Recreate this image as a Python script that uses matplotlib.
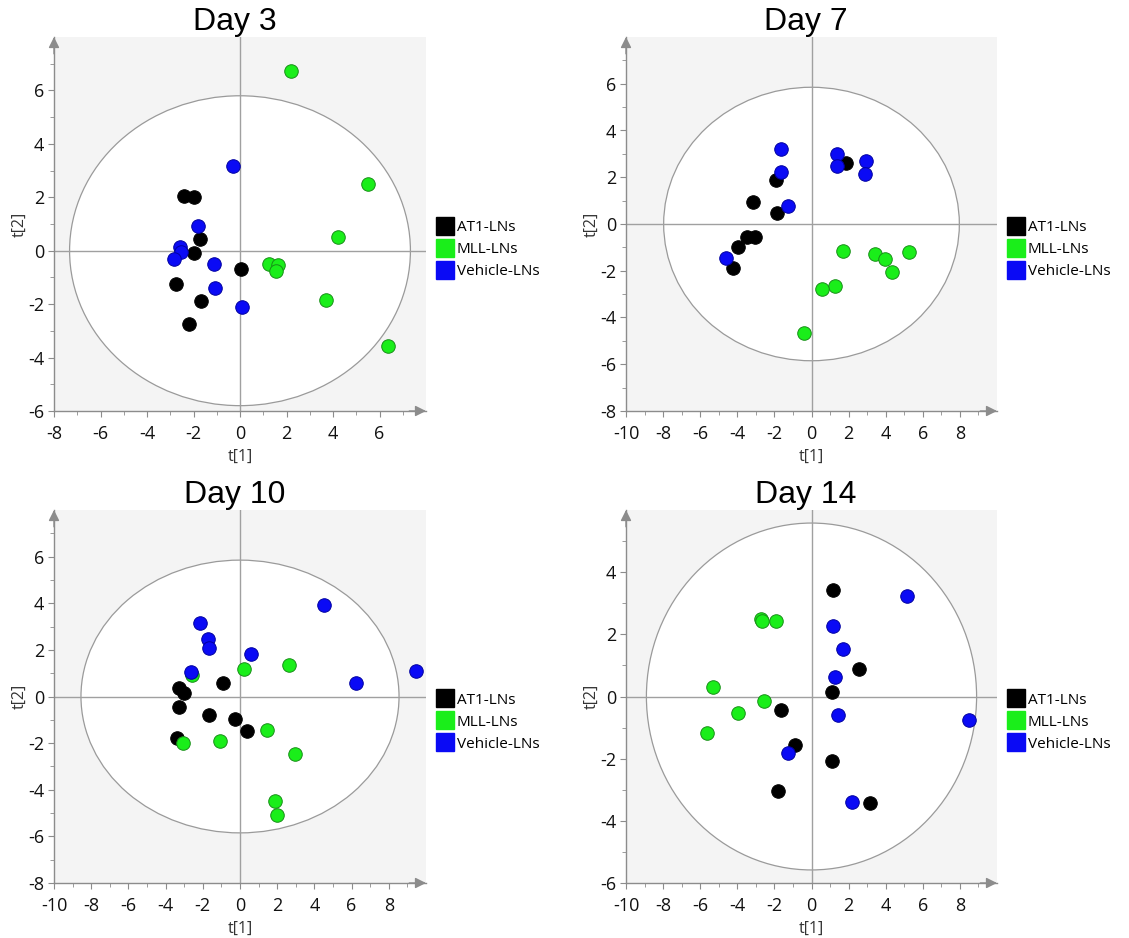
import matplotlib
matplotlib.use('Agg')
import matplotlib.pyplot as plt
from matplotlib.patches import Ellipse
from matplotlib.lines import Line2D
import numpy as np

plt.rcParams['font.family'] = ['Open Sans', 'DejaVu Sans']
plt.rcParams['axes.unicode_minus'] = False

groups = ['AT1-LNs', 'MLL-LNs', 'Vehicle-LNs']
face = ['#000000', '#1aee1a', '#0a0af5']
edge = ['#000000', '#178f17', '#0000a0']
titles = ['Day 3', 'Day 7', 'Day 10', 'Day 14']

# scores t[1], t[2]
day3_at1 = [(-2.41, 2.03), (-1.96, 2.0), (-1.71, 0.43), (-1.98, -0.1),
            (0.04, -0.7), (-2.77, -1.23), (-1.68, -1.88), (-2.18, -2.73)]
day3_mll = [(2.21, 6.74), (5.49, 2.49), (4.23, 0.5), (1.25, -0.48),
            (1.65, -0.55), (1.56, -0.75), (3.70, -1.83), (6.37, -3.55)]
day3_veh = [(-0.29, 3.16), (-1.79, 0.94), (-2.58, 0.13), (-2.52, -0.06),
            (-2.84, -0.3), (-1.10, -0.49), (-1.06, -1.41), (0.09, -2.1)]

day7_at1 = [(1.87, 2.6), (-1.94, 1.9), (-3.13, 0.96), (-1.87, 0.49),
            (-3.49, -0.57), (-3.04, -0.54), (-3.94, -0.97), (-4.21, -1.87)]
day7_mll = [(1.69, -1.17), (3.42, -1.3), (3.96, -1.49), (5.25, -1.21),
            (4.32, -2.07), (1.26, -2.64), (0.56, -2.8), (-0.43, -4.66)]
day7_veh = [(-1.67, 3.2), (-1.67, 2.24), (-1.28, 0.79), (1.35, 3.01),
            (1.35, 2.47), (2.95, 2.69), (2.91, 2.16), (-4.59, -1.44)]

day10_at1 = [(-0.92, 0.56), (-3.27, 0.37), (-3.0, 0.17), (-3.29, -0.46),
             (-1.65, -0.79), (-0.25, -0.96), (0.39, -1.46), (-3.41, -1.77)]
day10_mll = [(2.66, 1.33), (0.23, 1.2), (-2.57, 0.93), (1.45, -1.43),
             (2.94, -2.46), (-1.08, -1.93), (-3.07, -1.99), (1.90, -4.47),
             (1.99, -5.1)]
day10_veh = [(4.49, 3.94), (-2.14, 3.17), (-1.71, 2.46), (-1.65, 2.09),
             (0.61, 1.84), (-2.66, 1.06), (6.25, 0.56), (9.44, 1.11)]

day14_at1 = [(1.15, 3.42), (2.54, 0.89), (1.08, 0.13), (-1.67, -0.42),
             (-0.9, -1.57), (1.08, -2.09), (-1.81, -3.05), (3.15, -3.42)]
day14_mll = [(-2.74, 2.5), (-2.67, 2.42), (-1.94, 2.43), (-5.3, 0.32),
             (-2.58, -0.13), (-3.98, -0.54), (-5.65, -1.19)]
day14_veh = [(5.13, 3.23), (1.15, 2.27), (1.72, 1.53), (1.29, 0.64),
             (1.45, -0.61), (8.51, -0.77), (-1.27, -1.83), (2.17, -3.39)]

data = [
    [day3_at1, day3_mll, day3_veh],
    [day7_at1, day7_mll, day7_veh],
    [day10_at1, day10_mll, day10_veh],
    [day14_at1, day14_mll, day14_veh],
]

# Hotelling ellipse semi-axes
ell = [(7.33, 5.8), (7.97, 5.85), (8.55, 5.85), (8.9, 5.58)]

# axis setup: xlim, ylim, last labelled x, last labelled y
setup = [
    ((-8, 8), (-6, 8), 6, 6),
    ((-10, 10), (-8, 8), 8, 6),
    ((-10, 10), (-8, 8), 8, 6),
    ((-10, 10), (-6, 6), 8, 4),
]

W, H = 1129, 938
fig = plt.figure(figsize=(W / 100, H / 100), dpi=100)
boxes = [(54, 37, 426, 411), (626, 37, 997, 411),
         (54, 510, 426, 883), (626, 510, 997, 883)]

grey = '#8c8c8c'
for i in range(4):
    l, t, r, b = boxes[i]
    ax = fig.add_axes([l / W, 1 - b / H, (r - l) / W, (b - t) / H])
    ax.set_facecolor('#f4f4f4')
    (x0, x1), (y0, y1), xl, yl = setup[i]
    ax.set_xlim(x0, x1)
    ax.set_ylim(y0, y1)

    a, bb = ell[i]
    ax.add_patch(Ellipse((0, 0), 2 * a, 2 * bb, facecolor='white',
                         edgecolor='#9a9a9a', lw=0.9, zorder=1))
    ax.axhline(0, color='#a0a0a0', lw=1, zorder=2)
    ax.axvline(0, color='#a0a0a0', lw=1, zorder=2)

    for g in range(3):
        pts = np.array(data[i][g])
        ax.scatter(pts[:, 0], pts[:, 1], s=95, c=face[g], edgecolors=edge[g],
                   linewidths=0.7, zorder=3 + g)

    ax.set_xticks(np.arange(x0, xl + 1, 2))
    ax.set_xticks(np.arange(x0 + 1, x1, 2), minor=True)
    ax.set_yticks(np.arange(y0, yl + 1, 2))
    ax.set_yticks(np.arange(y0 + 1, y1, 2), minor=True)
    ax.tick_params(which='both', direction='out', color=grey, labelsize=13,
                   labelcolor='#111111')
    ax.tick_params(which='major', length=4)
    ax.tick_params(which='minor', length=3)
    ax.tick_params(axis='x', which='major', pad=6)
    ax.tick_params(axis='y', which='major', pad=3)

    for s in ['top', 'right']:
        ax.spines[s].set_visible(False)
    for s in ['left', 'bottom']:
        ax.spines[s].set_color(grey)
        ax.spines[s].set_linewidth(1)

    ax.annotate('', xy=(1.0, 0), xytext=(0.955, 0), xycoords='axes fraction',
                arrowprops=dict(arrowstyle='-|>', color=grey, lw=1,
                                mutation_scale=16, shrinkA=0, shrinkB=0),
                annotation_clip=False)
    ax.annotate('', xy=(0, 1.0), xytext=(0, 0.955), xycoords='axes fraction',
                arrowprops=dict(arrowstyle='-|>', color=grey, lw=1,
                                mutation_scale=16, shrinkA=0, shrinkB=0),
                annotation_clip=False)

    ax.set_title(titles[i], fontsize=23, pad=0, family=['Liberation Sans'],
                 x=0.485)
    ax.set_xlabel('t[1]', fontsize=11.5, labelpad=4, color='#333333')
    ax.set_ylabel('t[2]', fontsize=11.5, labelpad=0, color='#333333')

    handles = [Line2D([0], [0], marker='s', ls='none', markersize=12.5,
                      markerfacecolor=face[g], markeredgecolor=face[g])
               for g in range(3)]
    ax.legend(handles, groups, loc='upper left', bbox_to_anchor=(1.031, 0.51),
              frameon=False, fontsize=11, borderpad=0, borderaxespad=0,
              handlelength=1.0, handletextpad=0.25, labelspacing=0.45)

fig.savefig('out.png', dpi=100)
